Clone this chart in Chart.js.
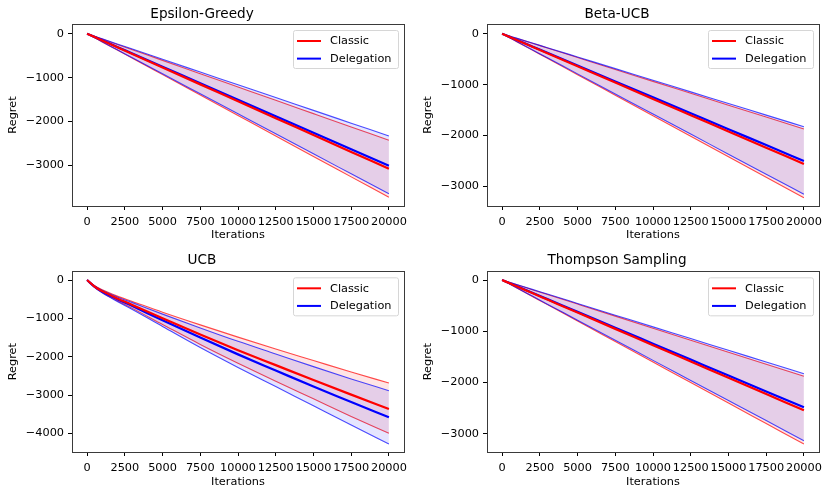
<!DOCTYPE html>
<html>
<head>
<meta charset="utf-8">
<script src="https://cdn.jsdelivr.net/npm/chart.js@4.4.1/dist/chart.umd.min.js"></script>
<style>
    body { margin: 0; background: #fff; }
    .cell { position: absolute; width: 415px; height: 248px; }
</style>
</head>
<body>
<div class="cell" style="left:0;top:0"><canvas id="chartEps" width="415" height="248"></canvas></div>
<div class="cell" style="left:415px;top:0"><canvas id="chartBeta" width="415" height="248"></canvas></div>
<div class="cell" style="left:0;top:248px"><canvas id="chartUcb" width="415" height="248"></canvas></div>
<div class="cell" style="left:415px;top:248px"><canvas id="chartTs" width="415" height="248"></canvas></div>
<script>
var iterations = [0, 500, 1000, 2000, 3000, 5000, 7500, 10000, 12500, 15000, 17500, 20000];
var xTicks = [0, 2500, 5000, 7500, 10000, 12500, 15000, 17500, 20000];

// Epsilon-Greedy
var epsClassicMean  = [0, -77, -154, -308, -462, -770, -1155, -1540, -1925, -2310, -2695, -3080];
var epsClassicUpper = [0, -60, -122, -245, -366, -608, -912, -1215, -1518, -1822, -2126, -2430];
var epsClassicLower = [0, -93, -187, -373, -560, -933, -1399, -1865, -2331, -2798, -3264, -3730];
var epsDelegMean    = [0, -75, -150, -301, -451, -752, -1129, -1505, -1881, -2257, -2634, -3010];
var epsDelegUpper   = [0, -58, -117, -234, -350, -583, -874, -1165, -1456, -1748, -2039, -2330];
var epsDelegLower   = [0, -91, -183, -365, -548, -913, -1369, -1825, -2281, -2738, -3194, -3650];

// Beta-UCB
var betaClassicMean  = [0, -64, -128, -256, -384, -640, -960, -1281, -1601, -1921, -2241, -2561];
var betaClassicUpper = [0, -47, -94, -187, -281, -468, -702, -937, -1171, -1405, -1639, -1873];
var betaClassicLower = [0, -81, -161, -322, -484, -806, -1209, -1612, -2015, -2418, -2821, -3224];
var betaDelegMean    = [0, -63, -125, -250, -375, -626, -938, -1251, -1564, -1877, -2189, -2502];
var betaDelegUpper   = [0, -46, -91, -183, -274, -457, -686, -914, -1143, -1371, -1600, -1828];
var betaDelegLower   = [0, -79, -158, -316, -474, -789, -1184, -1579, -1973, -2368, -2762, -3157];

// UCB
var ucbClassicMean  = [0, -170, -290, -480, -650, -1000, -1420, -1830, -2220, -2610, -2990, -3365];
var ucbClassicUpper = [0, -150, -255, -420, -560, -840, -1170, -1490, -1800, -2100, -2400, -2687];
var ucbClassicLower = [0, -190, -325, -540, -740, -1160, -1680, -2170, -2640, -3100, -3560, -4000];
var ucbDelegMean    = [0, -175, -300, -500, -680, -1050, -1500, -1940, -2360, -2780, -3180, -3583];
var ucbDelegUpper   = [0, -155, -265, -440, -590, -890, -1250, -1600, -1930, -2260, -2580, -2887];
var ucbDelegLower   = [0, -195, -335, -560, -770, -1210, -1760, -2280, -2780, -3280, -3780, -4279];

// Thompson Sampling
var tsClassicMean  = [0, -64, -127, -255, -382, -636, -954, -1273, -1591, -1909, -2227, -2545];
var tsClassicUpper = [0, -47, -94, -188, -282, -470, -705, -940, -1175, -1410, -1645, -1880];
var tsClassicLower = [0, -80, -160, -320, -480, -801, -1201, -1601, -2001, -2402, -2802, -3202];
var tsDelegMean    = [0, -62, -124, -249, -373, -622, -932, -1243, -1554, -1865, -2175, -2486];
var tsDelegUpper   = [0, -46, -91, -183, -274, -457, -686, -915, -1143, -1372, -1600, -1829];
var tsDelegLower   = [0, -78, -157, -314, -471, -784, -1176, -1569, -1961, -2353, -2745, -3137];

var FONT = 'DejaVu Sans';

function pts(arr) {
    return arr.map((v, i) => ({ x: iterations[i], y: v }));
}

function fmt(v) {
    return v < 0 ? '\u2212' + Math.abs(v) : String(v);
}

// axes frame on all four sides
var framePlugin = {
    id: 'frame',
    afterDatasetsDraw(chart) {
        const a = chart.chartArea, ctx = chart.ctx;
        ctx.save();
        ctx.strokeStyle = '#3a3a3a';
        ctx.lineWidth = 1;
        ctx.strokeRect(Math.round(a.left) + 0.5, Math.round(a.top) + 0.5,
            Math.round(a.right - a.left), Math.round(a.bottom - a.top));
        ctx.restore();
    }
};

// matplotlib style legend box in the upper right corner
var boxLegend = {
    id: 'boxLegend',
    afterDraw(chart) {
        const a = chart.chartArea, ctx = chart.ctx;
        const items = chart.data.datasets.filter(d => d.inLegend);
        const w = 105, h = 38;
        const x = a.right - 6 - w, y = a.top + 6;
        ctx.save();
        ctx.beginPath();
        ctx.roundRect(x + 0.5, y + 0.5, w, h, 2);
        ctx.fillStyle = 'rgba(255,255,255,0.85)';
        ctx.fill();
        ctx.strokeStyle = '#d6d6d6';
        ctx.lineWidth = 1;
        ctx.stroke();
        ctx.font = '11.3px "' + FONT + '"';
        ctx.textBaseline = 'middle';
        items.forEach((d, i) => {
            const cy = y + 11 + i * 17.6;
            ctx.beginPath();
            ctx.moveTo(x + 4, cy);
            ctx.lineTo(x + 28, cy);
            ctx.strokeStyle = d.borderColor;
            ctx.lineWidth = 2;
            ctx.stroke();
            ctx.fillStyle = '#000';
            ctx.fillText(d.label, x + 37, cy + 0.5);
        });
        ctx.restore();
    }
};

function createChart(id, title, s, yMin, yMax, yTicks, topRow) {
    var ctx = document.getElementById(id).getContext('2d');
    var line = { pointRadius: 0, cubicInterpolationMode: 'monotone' };
    // chart.js paints the last dataset first, so the red band goes under the blue one
    return new Chart(ctx, {
        type: 'line',
        data: {
            datasets: [
                Object.assign({ label: 'Classic', inLegend: true, data: pts(s.cm), borderColor: '#ff0000', borderWidth: 2.2, fill: false }, line),
                Object.assign({ label: 'Delegation', inLegend: true, data: pts(s.dm), borderColor: '#0000ff', borderWidth: 2.2, fill: false }, line),
                Object.assign({ label: 'Delegation upper', data: pts(s.du), borderColor: 'rgba(0,0,255,0.7)', borderWidth: 1.1, fill: '+1', backgroundColor: 'rgba(0,0,255,0.1)' }, line),
                Object.assign({ label: 'Delegation lower', data: pts(s.dl), borderColor: 'rgba(0,0,255,0.7)', borderWidth: 1.1, fill: false }, line),
                Object.assign({ label: 'Classic upper', data: pts(s.cu), borderColor: 'rgba(255,0,0,0.7)', borderWidth: 1.1, fill: '+1', backgroundColor: 'rgba(255,0,0,0.1)' }, line),
                Object.assign({ label: 'Classic lower', data: pts(s.cl), borderColor: 'rgba(255,0,0,0.7)', borderWidth: 1.1, fill: false }, line)
            ]
        },
        options: {
            responsive: false,
            animation: false,
            devicePixelRatio: 1,
            layout: { padding: { left: 0, right: 11, top: 0, bottom: 0 } },
            plugins: {
                legend: { display: false },
                tooltip: { enabled: false },
                title: {
                    display: true,
                    text: title,
                    color: '#000',
                    font: { family: FONT, size: 13.6, weight: 'normal' },
                    padding: topRow ? { top: 6.5, bottom: 1.2 } : { top: 4.5, bottom: 2.5 }
                }
            },
            scales: {
                x: {
                    type: 'linear',
                    min: -1000,
                    max: 21000,
                    afterBuildTicks: sc => { sc.ticks = xTicks.map(v => ({ value: v })); },
                    afterFit: sc => { sc.height = topRow ? 42 : 44; },
                    grid: { drawOnChartArea: false, drawTicks: true, tickLength: 4, color: '#000' },
                    border: { display: false },
                    ticks: { color: '#000', padding: 5, maxRotation: 0, autoSkip: false, font: { family: FONT, size: 11.3 }, callback: v => fmt(v) },
                    title: { display: true, text: 'Iterations', color: '#000', font: { family: FONT, size: 11.3 }, padding: { top: 0, bottom: topRow ? 6 : 7.6 } }
                },
                y: {
                    type: 'linear',
                    min: yMin,
                    max: yMax,
                    afterBuildTicks: sc => { sc.ticks = yTicks.map(v => ({ value: v })); },
                    afterFit: sc => { sc.width = 72; },
                    grid: { drawOnChartArea: false, drawTicks: true, tickLength: 4, color: '#000' },
                    border: { display: false },
                    ticks: { color: '#000', padding: 4, font: { family: FONT, size: 11.3 }, callback: v => fmt(v) },
                    title: { display: true, text: 'Regret', color: '#000', font: { family: FONT, size: 11.3 }, padding: { top: 6.2, bottom: 0 } }
                }
            }
        },
        plugins: [framePlugin, boxLegend]
    });
}

createChart('chartEps', 'Epsilon-Greedy',
    { cm: epsClassicMean, cu: epsClassicUpper, cl: epsClassicLower, dm: epsDelegMean, du: epsDelegUpper, dl: epsDelegLower },
    -3928, 221, [0, -1000, -2000, -3000], true);
createChart('chartBeta', 'Beta-UCB',
    { cm: betaClassicMean, cu: betaClassicUpper, cl: betaClassicLower, dm: betaDelegMean, du: betaDelegUpper, dl: betaDelegLower },
    -3387, 191, [0, -1000, -2000, -3000], true);
createChart('chartUcb', 'UCB',
    { cm: ucbClassicMean, cu: ucbClassicUpper, cl: ucbClassicLower, dm: ucbDelegMean, du: ucbDelegUpper, dl: ucbDelegLower },
    -4487, 227, [0, -1000, -2000, -3000, -4000], false);
createChart('chartTs', 'Thompson Sampling',
    { cm: tsClassicMean, cu: tsClassicUpper, cl: tsClassicLower, dm: tsDelegMean, du: tsDelegUpper, dl: tsDelegLower },
    -3358, 170, [0, -1000, -2000, -3000], false);
</script>
</body>
</html>
